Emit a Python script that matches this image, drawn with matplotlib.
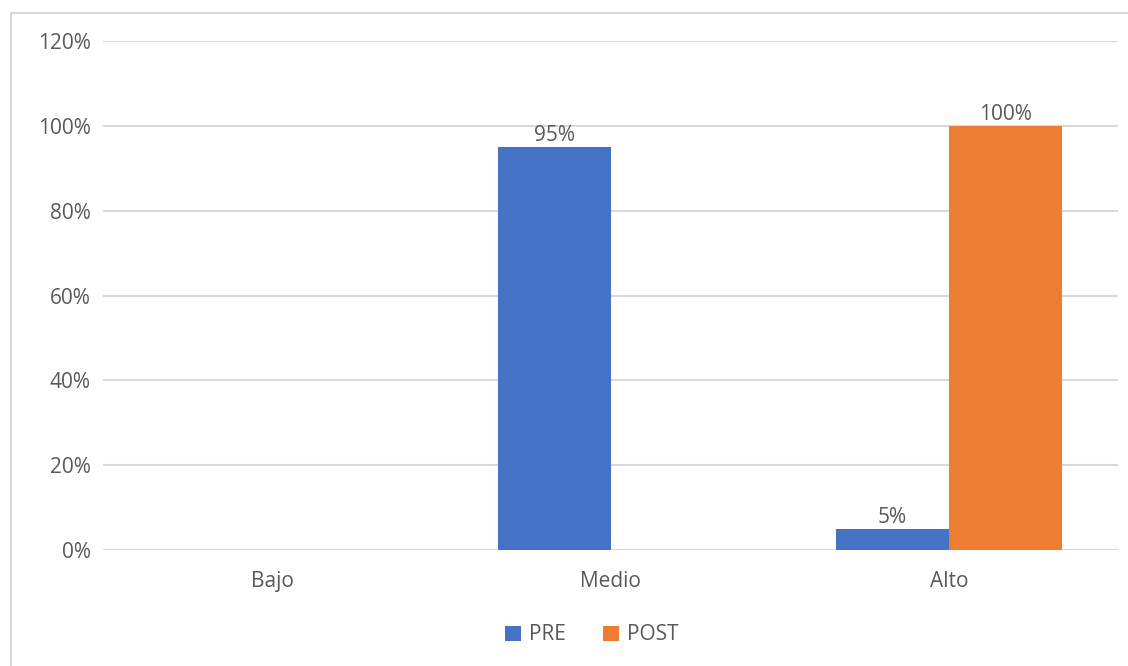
import matplotlib
matplotlib.use("Agg")
import matplotlib.pyplot as plt
import numpy as np
from matplotlib.patches import Rectangle

categories = ["Bajo", "Medio", "Alto"]
pre_values = [0, 95, 5]
post_values = [0, 0, 100]
series_names = ["PRE", "POST"]
y_ticks = [0, 20, 40, 60, 80, 100, 120]

plt.rcParams['font.family'] = ['Open Sans', 'DejaVu Sans']
text_color = "#595959"
c_pre = "#4472C4"
c_post = "#ED7D31"
fs = 15

fig = plt.figure(figsize=(11.28, 6.66), dpi=100)
fig.patches.append(Rectangle((11/1128, -0.01), 1.2, 1 - 13/666 + 0.01, transform=fig.transFigure,
                             fill=False, edgecolor="#d9d9d9", linewidth=1.5))

ax = fig.add_axes([103/1128, 1 - 550/666, (1118 - 103)/1128, (550 - 41)/666])
x = np.arange(len(categories))
w = 1/3
b1 = ax.bar(x - w/2, pre_values, width=w, color=c_pre, label=series_names[0], zorder=3)
b2 = ax.bar(x + w/2, post_values, width=w, color=c_post, label=series_names[1], zorder=3)

for bars, vals in ((b1, pre_values), (b2, post_values)):
    for rect, v in zip(bars, vals):
        if v > 0:
            ax.text(rect.get_x() + rect.get_width()/2, v + 0.3, f"{v}%", ha="center", va="bottom",
                    fontsize=fs, color=text_color)

ax.set_xlim(-0.5, 2.5)
ax.set_ylim(0, 120)
ax.set_yticks(y_ticks)
ax.set_yticklabels([f"{t}%" for t in y_ticks])
ax.set_xticks(x)
ax.set_xticklabels(categories)
ax.tick_params(axis="both", length=0, labelsize=fs, labelcolor=text_color)
ax.tick_params(axis="y", pad=9)
ax.tick_params(axis="x", pad=15)
ax.yaxis.grid(True, color="#d9d9d9", linewidth=1.5, zorder=0)
for s in ax.spines.values():
    s.set_visible(False)
ax.axhline(0, color="#d9d9d9", linewidth=1.5, zorder=1)

leg = fig.legend(handles=[b1, b2], labels=series_names, loc="center", bbox_to_anchor=(592/1128, 1 - 635/666),
                 ncol=2, frameon=False, fontsize=fs, handlelength=0.75, handleheight=0.75,
                 handletextpad=0.4, columnspacing=1.8)
for t in leg.get_texts():
    t.set_color(text_color)

fig.savefig("out.png", dpi=100)
